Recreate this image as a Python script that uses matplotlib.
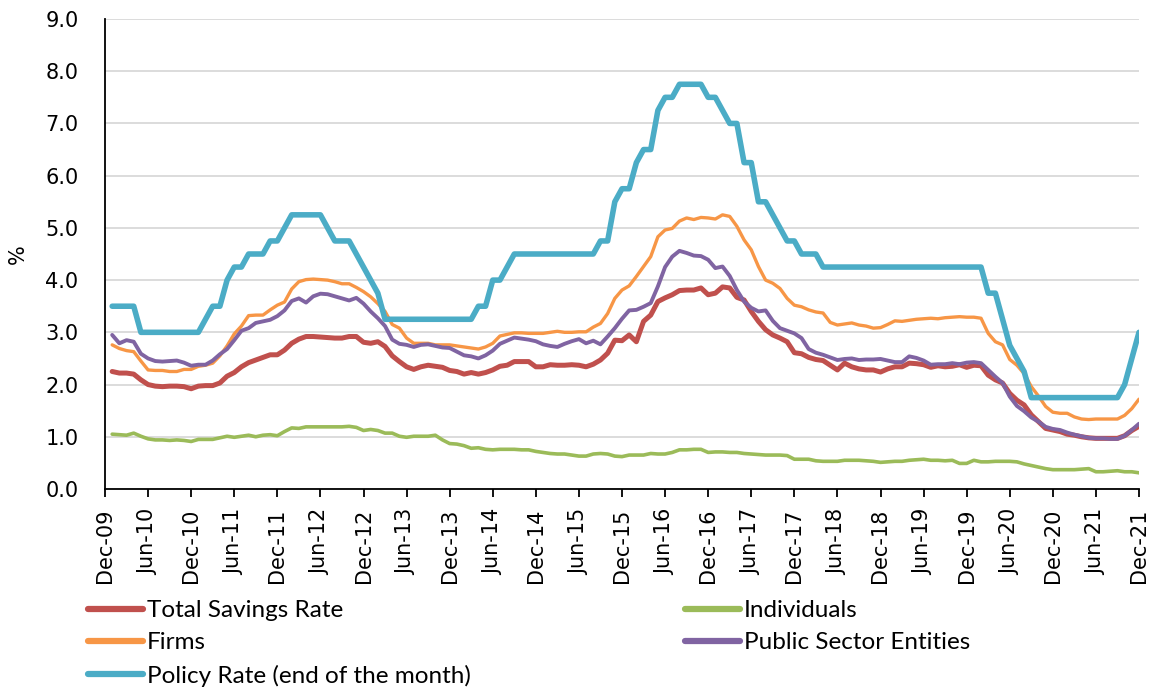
import numpy as np
import matplotlib
matplotlib.use('Agg')
import matplotlib.pyplot as plt

plt.rcParams['font.family'] = ['DejaVu Sans']

# monthly values, Jan-10 .. Dec-21 (one row per year)
total_savings = [
    2.25, 2.22, 2.22, 2.20, 2.09, 2.00, 1.97, 1.96, 1.97, 1.97, 1.96, 1.92,
    1.97, 1.98, 1.98, 2.03, 2.16, 2.23, 2.34, 2.42, 2.47, 2.52, 2.57, 2.57,
    2.66, 2.79, 2.87, 2.92, 2.92, 2.91, 2.90, 2.89, 2.89, 2.92, 2.92, 2.81,
    2.79, 2.82, 2.73, 2.55, 2.44, 2.34, 2.29, 2.34, 2.37, 2.35, 2.33, 2.27,
    2.25, 2.20, 2.23, 2.20, 2.23, 2.28, 2.35, 2.37, 2.44, 2.44, 2.44, 2.34,
    2.34, 2.38, 2.37, 2.37, 2.38, 2.37, 2.34, 2.39, 2.47, 2.60, 2.85, 2.84,
    2.95, 2.82, 3.21, 3.33, 3.59, 3.66, 3.72, 3.80, 3.81, 3.81, 3.85, 3.72,
    3.75, 3.87, 3.85, 3.67, 3.62, 3.40, 3.21, 3.05, 2.95, 2.89, 2.82, 2.61,
    2.59, 2.52, 2.48, 2.46, 2.37, 2.28, 2.41, 2.34, 2.30, 2.28, 2.28, 2.24,
    2.30, 2.34, 2.34, 2.41, 2.40, 2.38, 2.33, 2.36, 2.34, 2.35, 2.38, 2.33,
    2.37, 2.36, 2.18, 2.09, 2.03, 1.83, 1.70, 1.61, 1.42, 1.29, 1.16, 1.13,
    1.10, 1.05, 1.03, 1.00, 0.98, 0.97, 0.97, 0.97, 0.97, 1.02, 1.12, 1.20,
]

individuals = [
    1.05, 1.04, 1.03, 1.07, 1.01, 0.96, 0.94, 0.94, 0.93, 0.94, 0.93, 0.91,
    0.95, 0.95, 0.95, 0.98, 1.01, 0.99, 1.01, 1.03, 1.00, 1.03, 1.04, 1.02,
    1.10, 1.17, 1.16, 1.19, 1.19, 1.19, 1.19, 1.19, 1.19, 1.20, 1.18, 1.12,
    1.14, 1.12, 1.07, 1.07, 1.01, 0.99, 1.01, 1.01, 1.01, 1.03, 0.94, 0.87,
    0.86, 0.83, 0.78, 0.79, 0.76, 0.75, 0.76, 0.76, 0.76, 0.75, 0.75, 0.72,
    0.70, 0.68, 0.67, 0.67, 0.65, 0.63, 0.63, 0.67, 0.68, 0.67, 0.63, 0.62,
    0.65, 0.65, 0.65, 0.68, 0.67, 0.67, 0.70, 0.75, 0.75, 0.76, 0.76, 0.70,
    0.71, 0.71, 0.70, 0.70, 0.68, 0.67, 0.66, 0.65, 0.65, 0.65, 0.64, 0.57,
    0.57, 0.57, 0.54, 0.53, 0.53, 0.53, 0.55, 0.55, 0.55, 0.54, 0.53, 0.51,
    0.52, 0.53, 0.53, 0.55, 0.56, 0.57, 0.55, 0.55, 0.54, 0.55, 0.49, 0.49,
    0.55, 0.52, 0.52, 0.53, 0.53, 0.53, 0.52, 0.48, 0.45, 0.42, 0.39, 0.37,
    0.37, 0.37, 0.37, 0.38, 0.39, 0.33, 0.33, 0.34, 0.35, 0.33, 0.33, 0.31,
]

firms = [
    2.76, 2.69, 2.65, 2.63, 2.45, 2.28, 2.27, 2.27, 2.25, 2.25, 2.29, 2.29,
    2.35, 2.37, 2.41, 2.55, 2.74, 2.97, 3.12, 3.32, 3.33, 3.33, 3.43, 3.52,
    3.58, 3.83, 3.97, 4.01, 4.02, 4.01, 4.00, 3.97, 3.93, 3.93, 3.86, 3.78,
    3.68, 3.55, 3.40, 3.15, 3.08, 2.89, 2.79, 2.79, 2.79, 2.76, 2.76, 2.76,
    2.74, 2.72, 2.70, 2.68, 2.72, 2.79, 2.93, 2.96, 2.99, 2.99, 2.98, 2.98,
    2.98, 3.00, 3.02, 3.00, 3.00, 3.01, 3.01, 3.10, 3.17, 3.36, 3.65, 3.81,
    3.89, 4.07, 4.26, 4.45, 4.83, 4.96, 4.99, 5.13, 5.19, 5.16, 5.20, 5.19,
    5.17, 5.25, 5.22, 5.03, 4.77, 4.58, 4.26, 4.00, 3.94, 3.84, 3.65, 3.52,
    3.49, 3.43, 3.39, 3.37, 3.19, 3.14, 3.16, 3.18, 3.14, 3.12, 3.08, 3.09,
    3.15, 3.22, 3.21, 3.23, 3.25, 3.26, 3.27, 3.26, 3.28, 3.29, 3.30, 3.29,
    3.29, 3.27, 2.98, 2.82, 2.76, 2.48, 2.37, 2.21, 1.96, 1.78, 1.58, 1.47,
    1.45, 1.45, 1.38, 1.34, 1.33, 1.34, 1.34, 1.34, 1.34, 1.41, 1.54, 1.72,
]

public_sector = [
    2.95, 2.79, 2.85, 2.82, 2.59, 2.50, 2.45, 2.44, 2.45, 2.46, 2.42, 2.36,
    2.38, 2.38, 2.46, 2.58, 2.68, 2.85, 3.03, 3.08, 3.18, 3.21, 3.24, 3.31,
    3.42, 3.60, 3.65, 3.57, 3.69, 3.74, 3.73, 3.69, 3.65, 3.61, 3.66, 3.55,
    3.40, 3.27, 3.12, 2.86, 2.78, 2.76, 2.72, 2.76, 2.77, 2.74, 2.71, 2.70,
    2.63, 2.56, 2.54, 2.50, 2.56, 2.65, 2.78, 2.84, 2.90, 2.88, 2.86, 2.83,
    2.77, 2.74, 2.72, 2.78, 2.83, 2.87, 2.79, 2.84, 2.77, 2.92, 3.08, 3.26,
    3.42, 3.43, 3.49, 3.56, 3.88, 4.25, 4.45, 4.56, 4.52, 4.47, 4.46, 4.39,
    4.23, 4.26, 4.08, 3.81, 3.59, 3.47, 3.40, 3.42, 3.22, 3.08, 3.03, 2.98,
    2.89, 2.68, 2.61, 2.57, 2.52, 2.47, 2.49, 2.50, 2.47, 2.48, 2.48, 2.49,
    2.46, 2.43, 2.43, 2.54, 2.51, 2.46, 2.38, 2.39, 2.39, 2.41, 2.39, 2.42,
    2.43, 2.41, 2.28, 2.15, 2.03, 1.77, 1.59, 1.49, 1.37, 1.29, 1.19, 1.15,
    1.13, 1.08, 1.04, 1.01, 0.98, 0.97, 0.97, 0.96, 0.96, 1.02, 1.13, 1.25,
]

policy_rate = [
    3.50, 3.50, 3.50, 3.50, 3.00, 3.00, 3.00, 3.00, 3.00, 3.00, 3.00, 3.00,
    3.00, 3.25, 3.50, 3.50, 4.00, 4.25, 4.25, 4.50, 4.50, 4.50, 4.75, 4.75,
    5.00, 5.25, 5.25, 5.25, 5.25, 5.25, 5.00, 4.75, 4.75, 4.75, 4.50, 4.25,
    4.00, 3.75, 3.25, 3.25, 3.25, 3.25, 3.25, 3.25, 3.25, 3.25, 3.25, 3.25,
    3.25, 3.25, 3.25, 3.50, 3.50, 4.00, 4.00, 4.25, 4.50, 4.50, 4.50, 4.50,
    4.50, 4.50, 4.50, 4.50, 4.50, 4.50, 4.50, 4.50, 4.75, 4.75, 5.50, 5.75,
    5.75, 6.25, 6.50, 6.50, 7.25, 7.50, 7.50, 7.75, 7.75, 7.75, 7.75, 7.50,
    7.50, 7.25, 7.00, 7.00, 6.25, 6.25, 5.50, 5.50, 5.25, 5.00, 4.75, 4.75,
    4.50, 4.50, 4.50, 4.25, 4.25, 4.25, 4.25, 4.25, 4.25, 4.25, 4.25, 4.25,
    4.25, 4.25, 4.25, 4.25, 4.25, 4.25, 4.25, 4.25, 4.25, 4.25, 4.25, 4.25,
    4.25, 4.25, 3.75, 3.75, 3.25, 2.75, 2.50, 2.25, 1.75, 1.75, 1.75, 1.75,
    1.75, 1.75, 1.75, 1.75, 1.75, 1.75, 1.75, 1.75, 1.75, 2.00, 2.50, 3.00,
]

tick_labels = ['Dec-09', 'Jun-10', 'Dec-10', 'Jun-11', 'Dec-11', 'Jun-12', 'Dec-12',
               'Jun-13', 'Dec-13', 'Jun-14', 'Dec-14', 'Jun-15', 'Dec-15', 'Jun-16',
               'Dec-16', 'Jun-17', 'Dec-17', 'Jun-18', 'Dec-18', 'Jun-19', 'Dec-19',
               'Jun-20', 'Dec-20', 'Jun-21', 'Dec-21']

months = np.arange(1, len(total_savings) + 1)  # months after Dec-09

fig = plt.figure(figsize=(11.55, 6.92), dpi=100)
ax = fig.add_axes([105/1155, 1 - 489/692, (1139 - 105)/1155, (489 - 19)/692])

l_total, = ax.plot(months, total_savings, color='#C0504D', lw=3.6, solid_capstyle='round',
                   label='Total Savings Rate')
l_ind, = ax.plot(months, individuals, color='#9BBB59', lw=2.6, solid_capstyle='round',
                 label='Individuals')
l_firms, = ax.plot(months, firms, color='#F79646', lw=2.4, solid_capstyle='round',
                   label='Firms')
l_pub, = ax.plot(months, public_sector, color='#8064A2', lw=2.8, solid_capstyle='round',
                 label='Public Sector Entities')
l_pol, = ax.plot(months, policy_rate, color='#4BACC6', lw=4.0, solid_capstyle='round',
                 label='Policy Rate (end of the month)')

ax.set_xlim(0, 144)
ax.set_ylim(0, 9)
ax.set_yticks(np.arange(0, 9.5, 1.0))
ax.set_yticklabels(['%.1f' % v for v in np.arange(0, 9.5, 1.0)], fontsize=15)
ax.set_xticks(np.arange(0, 145, 6))
ax.set_xticklabels(tick_labels, rotation=90, fontsize=15)
ax.tick_params(axis='x', direction='out', length=6, width=1.3, pad=8)
ax.tick_params(axis='y', length=0, pad=19)
ax.grid(axis='y', color='#D9D9D9', lw=1.3)
ax.set_axisbelow(True)
for s in ['top', 'right']:
    ax.spines[s].set_visible(False)
for s in ['left', 'bottom']:
    ax.spines[s].set_linewidth(1.3)
    ax.spines[s].set_color('black')
ax.set_ylabel('%', fontsize=15)
ax.yaxis.set_label_coords((28 - 105) / 1034, 0.5)

leg_font = {'family': ['Lato', 'DejaVu Sans'], 'size': 17.5}
leg_kw = dict(loc='upper left', frameon=False, prop=leg_font, handlelength=2.25,
              handletextpad=0.18, labelspacing=0.47, borderpad=0, borderaxespad=0)
leg1 = fig.legend([l_total, l_firms, l_pol],
                  [l_total.get_label(), l_firms.get_label(), l_pol.get_label()],
                  bbox_to_anchor=(88/1155, 1 - 600/692), **leg_kw)
leg2 = fig.legend([l_ind, l_pub],
                  [l_ind.get_label(), l_pub.get_label()],
                  bbox_to_anchor=(685/1155, 1 - 600/692), **leg_kw)
for leg in (leg1, leg2):
    for h in leg.legend_handles:
        h.set_linewidth(4.5)

fig.savefig('out.png', dpi=100)
